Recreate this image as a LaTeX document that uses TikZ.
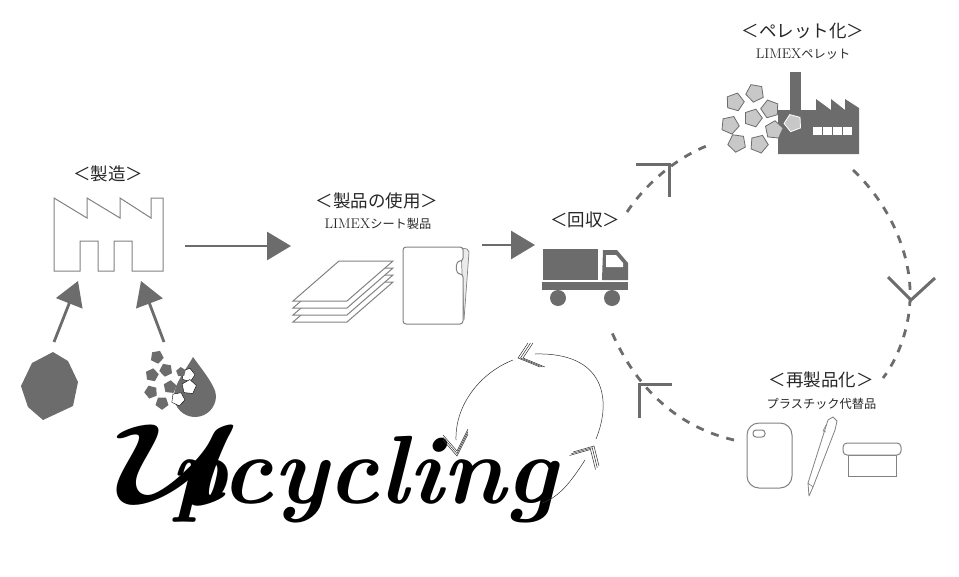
\documentclass[tikz,border=0pt]{standalone}
\usepackage{fontspec}
\usepackage{graphicx}
\usetikzlibrary{arrows.meta}
\newfontfamily\jpfont{Noto Sans CJK JP}
\definecolor{mygray}{RGB}{108,108,108}
\definecolor{mylinegray}{RGB}{130,130,130}
\definecolor{mypellet}{RGB}{200,200,200}
\tikzset{
  >={Triangle[length=24pt,width=28pt]},
  flowline/.style={->,mygray,line width=2.8pt},
  loopline/.style={mygray,line width=2.8pt,dash pattern=on 8pt off 8pt},
  chevronline/.style={mygray,line width=3pt,line join=miter},
  outline/.style={mylinegray,line width=1pt,fill=white},
  solidgray/.style={fill=mygray,draw=none},
  thincycle/.style={black!80,line width=0.5pt},
  title/.style={font=\jpfont\fontsize{17.5}{18}\selectfont,inner sep=0pt,text=black!85},
  subtitle/.style={font=\fontsize{14}{15}\selectfont,inner sep=0pt,text=black!85},
}
\newcommand{\jpsub}[1]{{\jpfont\fontsize{12.2}{14}\selectfont #1}}
% pentagon: style, x, y, radius, rotation
\newcommand{\pentagon}[5]{\draw[#1,shift={(#2,#3)},rotate=#5]
  (90:#4) -- (162:#4) -- (234:#4) -- (306:#4) -- (18:#4) -- cycle;}

\begin{document}
\begin{tikzpicture}[x=1pt,y=-1pt]
  \useasboundingbox (0,0) rectangle (959,576);

  % labels
  \node[title] (MFG) at (108,174) {＜製造＞};
  \node[title] (USE) at (377,201) {＜製品の使用＞};
  \node[subtitle] (USEsub) at (378,224) {LIMEX\jpsub{シート製品}};
  \node[title] (COL) at (585,220) {＜回収＞};
  \node[title] (PEL) at (803,31) {＜ペレット化＞};
  \node[subtitle] (PELsub) at (803,54) {LIMEX\jpsub{ペレット}};
  \node[title] (REM) at (821,380) {＜再製品化＞};
  \node[inner sep=0pt,text=black!85] (REMsub) at (821.5,404) {\jpsub{プラスチック代替品}};

  % factory outline
  \draw[outline]
    (54,198) -- (87,218) -- (87,198) -- (120,218) -- (120,198) -- (151,218)
    -- (151,198) -- (163,198) -- (163,271) -- (132,271) -- (132,241)
    -- (114,241) -- (114,271) -- (98,271) -- (98,241) -- (80,241)
    -- (80,271) -- (54,271) -- cycle;

  % raw material
  \fill[mygray] (53,352) -- (68,361) -- (78,382) -- (73,406) -- (43,420)
    -- (28,407) -- (21,386) -- (32,363) -- cycle;

  % drop with pellets
  \fill[mygray] (193,357) .. controls (200,367) and (216,386) .. (216,396)
    arc[start angle=0,end angle=180,radius=21]
    .. controls (174,384) and (187,368) .. (193,357) -- cycle;
  \foreach \cx/\cy/\rot in {157/357/10,166/370/-10,152/375/25,170/387/30,151/392/-15,162/403/0}
    {\pentagon{solidgray}{\cx}{\cy}{6.8}{\rot}}
  \pentagon{fill=white}{188}{375}{7}{20}
  \pentagon{fill=white}{189}{387}{7.5}{30}
  \pentagon{fill=white}{178}{399}{7}{10}
  \pentagon{solidgray}{181}{372}{5}{40}

  % arrows into factory
  \coordinate (oreout) at (54,342);
  \coordinate (orein) at (78,281);
  \coordinate (dropout) at (164,342);
  \coordinate (dropin) at (141,281);
  \draw[flowline] (oreout) -- (orein);
  \draw[flowline] (dropout) -- (dropin);

  % factory -> sheets, sheets -> truck
  \coordinate (mfgout) at (185,246);
  \coordinate (usein) at (291,246);
  \coordinate (useout) at (482,245);
  \coordinate (colin) at (535,245);
  \draw[flowline] (mfgout) -- (usein);
  \draw[flowline] (useout) -- (colin);

  % sheets
  \foreach \dy in {21,14,7,0}
    \draw[outline,shift={(0,\dy)}]
      (339,261) -- (393,261) -- (347,301) -- (293,301) -- cycle;

  % folder
  \draw[mylinegray,fill=black!8,line width=0.7pt]
    (461,248) -- (467,249) -- (469,252) -- (464,320) -- cycle;
  \draw[outline,rounded corners=3pt]
    (403,247) -- (463,247) -- (463,261)
    .. controls (455,261) and (455,274) .. (463,274)
    -- (463,324) -- (403,324) -- cycle;

  % truck
  \fill[mygray] (543,249) rectangle (598,280);
  \fill[mygray] (603,250) -- (617,250) -- (628,263) -- (628,280) -- (602,280) -- cycle;
  \fill[white] (606,255) -- (616,255) -- (623,263) -- (623,267) -- (606,267) -- cycle;
  \fill[mygray] (542,282) rectangle (628,290);
  \fill[mygray] (558,298) circle[radius=8];
  \fill[mygray] (612,298) circle[radius=8];

  % pellet factory
  \fill[mygray] (790,72) rectangle (801,110);
  \fill[mygray] (778,110) -- (816,110) -- (816,99) -- (831,110) -- (831,99)
    -- (845,110) -- (845,99) -- (859,108) -- (859,154) -- (778,154) -- cycle;
  \foreach \wx in {813,823,833,843}
    \fill[white] (\wx,127) rectangle (\wx+8.7,135);
  \foreach \cx/\cy/\rot in {735/102/20,755/93/-10,770/109/-20,730/125/12,753/118/18,774/130/30,737/143/-8,759/144/14}
    {\pentagon{draw=mygray,fill=mypellet,line width=0.8pt}{\cx}{\cy}{9.3}{\rot}}
  \pentagon{draw=white,fill=mypellet,line width=0.8pt}{793}{123}{9}{-15}

  % recycling loop
  \coordinate (colout) at (627,212);
  \coordinate (pelin) at (709,145);
  \coordinate (pelout) at (853,170);
  \coordinate (loopmark) at (910,300);
  \coordinate (remin) at (883,378);
  \coordinate (remout) at (734,440);
  \coordinate (colin2) at (610,328);
  \draw[loopline] (colout) .. controls (645,185) and (675,158) .. (pelin);
  \draw[loopline] (pelout) .. controls (890,205) and (912,255) .. (loopmark)
    .. controls (909,330) and (897,360) .. (remin);
  \draw[loopline] (remout) .. controls (690,430) and (640,400) .. (colin2);
  \draw[chevronline] (636,164) -- (669,164) -- (669,197);
  \draw[chevronline] (888,277) -- (911,300) -- (935,278);
  \draw[chevronline] (672,384) -- (639,384) -- (639,418);

  % phone case
  \draw[outline,rounded corners=12pt] (747,423) rectangle (792,488);
  \draw[outline,rounded corners=3pt] (753,430) rectangle (765,437);

  % pen
  \draw[outline,line join=round,line width=0.8pt] (809,496) -- (808,483) -- (828,420) -- (833,417)
    -- (837,421) -- (835,430) -- (813,487) -- cycle;
  \draw[mylinegray,line width=0.6pt] (808,483) -- (813,487);
  \draw[mylinegray,line width=0.6pt] (826,425) -- (823,431) -- (826,432);

  % container
  \draw[outline] (848,455) rectangle (896,476);
  \draw[outline,rounded corners=4pt] (843,443) rectangle (901,455);

  % upcycling mark
  \node[anchor=base west,inner sep=0pt,font=\fontsize{97}{97}\selectfont\bfseries\itshape] (UP) at (118,503)
    {\scalebox{6}[4.6]{\boldmath$\mathcal{U}$}\kern-70pt pcycling};

  % small cycle
  \coordinate (cyctop) at (535,354);
  \coordinate (cycright) at (596,439);
  \coordinate (cyctopl) at (513,360);
  \coordinate (cycleft) at (456,440);
  \coordinate (cycstart) at (542,503);
  \coordinate (cycup) at (585,460);
  \draw[thincycle] (cycright) .. controls (612,400) and (605,352) .. (cyctop);
  \draw[thincycle] (cyctopl) .. controls (480,373) and (455,405) .. (cycleft);
  \draw[thincycle] (cycstart) .. controls (560,497) and (572,480) .. (cycup);
  \foreach \d in {0,2.5,5} {
    \draw[thincycle,shift={(\d,0)}] (528,343) -- (518,358) -- (540,367);
    \draw[thincycle,shift={(0,-\d)}] (443,440) -- (457,456) -- (468,434);
    \draw[thincycle,shift={(-0.7*\d,0.7*\d)}] (573,452) -- (594,446) -- (599,466);
  }
\end{tikzpicture}
\end{document}
